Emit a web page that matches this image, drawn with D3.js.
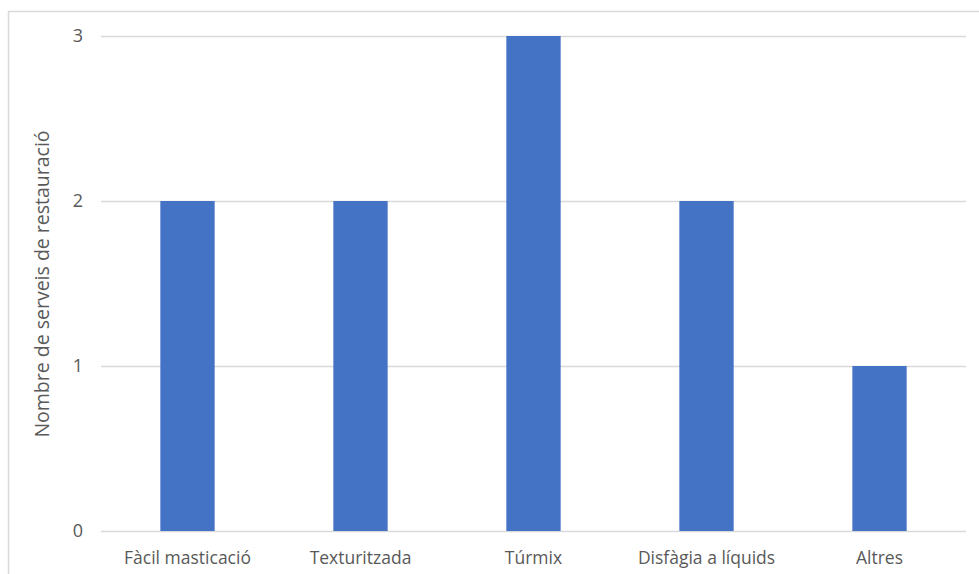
<!DOCTYPE html>
<html><head><meta charset="utf-8">
<script src="https://cdn.jsdelivr.net/npm/d3@7"></script>
<style>body{margin:0;background:#fff}svg{display:block}</style>
</head><body><svg id="c" width="979" height="574"></svg>
<script>
const categories = ["Fàcil masticació","Texturitzada","Túrmix","Disfàgia a líquids","Altres"];
const values = [2,2,3,2,1];
const yTicks = [0,1,2,3];
const yTitle = "Nombre de serveis de restauració";

const svg = d3.select("#c");
const font = "'Open Sans', sans-serif";
svg.append("rect").attr("x",8.5).attr("y",11.5).attr("width",980).attr("height",580)
  .attr("fill","#fff").attr("stroke","#d9d9d9").attr("stroke-width",1.5);

const m = {l:101, r:966, t:36, b:531};
const x = d3.scaleBand().domain(categories).range([m.l,m.r]).paddingInner(0.686).paddingOuter(0.343);
const y = d3.scaleLinear().domain([0,3]).range([m.b,m.t]);

const ya = svg.append("g").attr("transform",`translate(${m.l},0)`)
  .call(d3.axisLeft(y).tickValues(yTicks).tickFormat(d3.format("d")).tickSize(-(m.r-m.l)).tickPadding(18));
ya.select(".domain").remove();
ya.selectAll(".tick line").attr("stroke","#d9d9d9").attr("stroke-width",1.5);
ya.selectAll(".tick text").attr("fill","#595959").style("font-family",font).style("font-size","18px");

svg.append("g").selectAll("rect").data(values).join("rect")
  .attr("x",(d,i)=>x(categories[i])).attr("width",x.bandwidth())
  .attr("y",d=>y(d)).attr("height",d=>y(0)-y(d)).attr("fill","#4472c4");

const xa = svg.append("g").attr("transform",`translate(0,${m.b})`)
  .call(d3.axisBottom(x).tickSize(0).tickPadding(21));
xa.select(".domain").remove();
xa.selectAll(".tick text").attr("fill","#595959").style("font-family",font).style("font-size","17.5px");

svg.append("text").attr("transform",`translate(49,${284}) rotate(-90)`)
  .attr("text-anchor","middle").attr("fill","#595959").style("font-family",font).style("font-size","19.5px")
  .text(yTitle);
</script></body></html>
